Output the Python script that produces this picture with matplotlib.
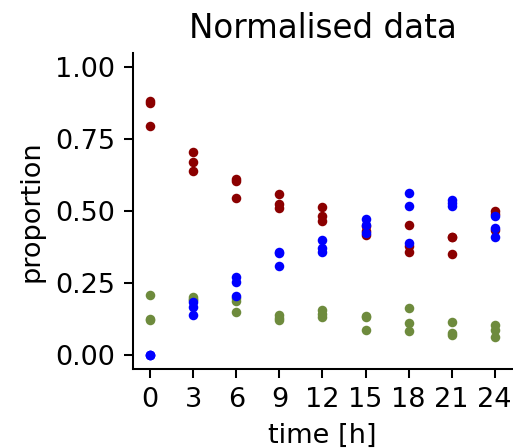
import numpy as np
import matplotlib
matplotlib.use("Agg")
import matplotlib.pyplot as plt

# time points and three replicates per time point
times = [0, 3, 6, 9, 12, 15, 18, 21, 24]

red_vals = [[0.882, 0.875, 0.796],
            [0.704, 0.669, 0.639],
            [0.613, 0.604, 0.544],
            [0.558, 0.523, 0.511],
            [0.513, 0.482, 0.464],
            [0.449, 0.432, 0.418],
            [0.453, 0.377, 0.356],
            [0.411, 0.408, 0.350],
            [0.499, 0.490, 0.435]]

green_vals = [[0.207, 0.122, 0.125],
              [0.201, 0.195, 0.190],
              [0.196, 0.187, 0.147],
              [0.139, 0.129, 0.119],
              [0.154, 0.143, 0.131],
              [0.133, 0.130, 0.087],
              [0.164, 0.111, 0.083],
              [0.112, 0.076, 0.068],
              [0.102, 0.087, 0.061]]

blue_vals = [[0.0, 0.0, 0.0],
             [0.185, 0.165, 0.137],
             [0.271, 0.252, 0.204],
             [0.359, 0.354, 0.310],
             [0.400, 0.371, 0.359],
             [0.472, 0.453, 0.424],
             [0.564, 0.516, 0.388],
             [0.540, 0.528, 0.517],
             [0.482, 0.440, 0.409]]

plt.rcParams["font.size"] = 10.6

dpi = 184
fig = plt.figure(figsize=(513 / dpi, 448 / dpi), dpi=dpi)
ax = fig.add_axes([0.2593, 0.1763, 0.7387, 0.7054])

for vals, col in [(red_vals, "darkred"), (green_vals, "#6e8b3d"), (blue_vals, "blue")]:
    vals = np.array(vals)
    x = np.repeat(times, vals.shape[1])
    ax.scatter(x, vals.ravel(), s=14, color=col, linewidths=0, zorder=3)

ax.set_xlim(-1.2, 25.2)
ax.set_ylim(-0.05, 1.05)
ax.set_xticks(times)
ax.set_yticks([0, 0.25, 0.5, 0.75, 1.0])
ax.spines["top"].set_visible(False)
ax.spines["right"].set_visible(False)
ax.set_title("Normalised data")
ax.set_xlabel("time [h]")
ax.set_ylabel("proportion")

fig.savefig("out.png", dpi=dpi)
